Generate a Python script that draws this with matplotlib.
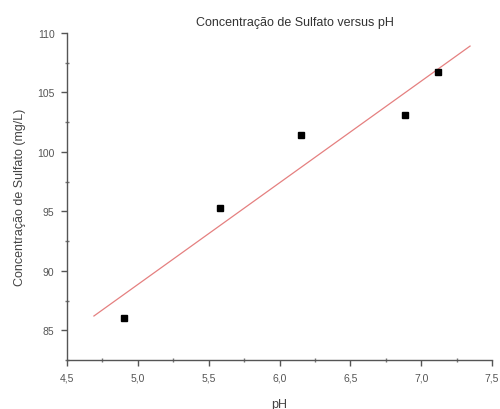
import numpy as np
import matplotlib
matplotlib.use("Agg")
import matplotlib.pyplot as plt
from matplotlib.ticker import FuncFormatter, MultipleLocator

plt.rcParams['font.family'] = ['Liberation Sans', 'DejaVu Sans']

ph = [4.90, 5.58, 6.155, 6.887, 7.12]
sulfato = [86.0, 95.3, 101.4, 103.1, 106.7]
fit_range = [4.69, 7.345]
title = "Concentração de Sulfato versus pH"
xlabel = "pH"
ylabel = "Concentração de Sulfato (mg/L)"

slope, intercept = np.polyfit(ph, sulfato, 1)
fx = np.array(fit_range)
fy = slope * fx + intercept

fig = plt.figure(figsize=(5, 4.1), dpi=100)
ax = fig.add_axes([0.134, 0.1195, 0.85, 0.7975])
ax.plot(fx, fy, color='#e58080', lw=0.9)
ax.plot(ph, sulfato, 's', color='black', ms=4.3, ls='none')

ax.set_xlim(4.5, 7.5)
ax.set_ylim(82.5, 110)
ax.xaxis.set_major_locator(MultipleLocator(0.5))
ax.xaxis.set_minor_locator(MultipleLocator(0.25))
ax.yaxis.set_major_locator(MultipleLocator(5))
ax.yaxis.set_minor_locator(MultipleLocator(2.5))
ax.xaxis.set_major_formatter(FuncFormatter(lambda v, p: f"{v:.1f}".replace('.', ',')))
ax.yaxis.set_major_formatter(FuncFormatter(lambda v, p: f"{v:.0f}"))

for s in ['top', 'right']:
    ax.spines[s].set_visible(False)
for s in ['left', 'bottom']:
    ax.spines[s].set_color('#555555')
    ax.spines[s].set_linewidth(1.0)
ax.tick_params(which='major', direction='out', length=4, width=1, color='#555555',
               labelsize=7.5, labelcolor='#555555', pad=5)
ax.tick_params(which='minor', direction='inout', length=3, width=1, color='#777777')

ax.set_xlabel(xlabel, fontsize=9, color='#444444', labelpad=11)
ax.set_ylabel(ylabel, fontsize=9, color='#444444', labelpad=8)
fig.text(0.59, 0.945, title, ha='center', va='center', fontsize=9, color='#333333')

fig.savefig("out.png", dpi=100)
